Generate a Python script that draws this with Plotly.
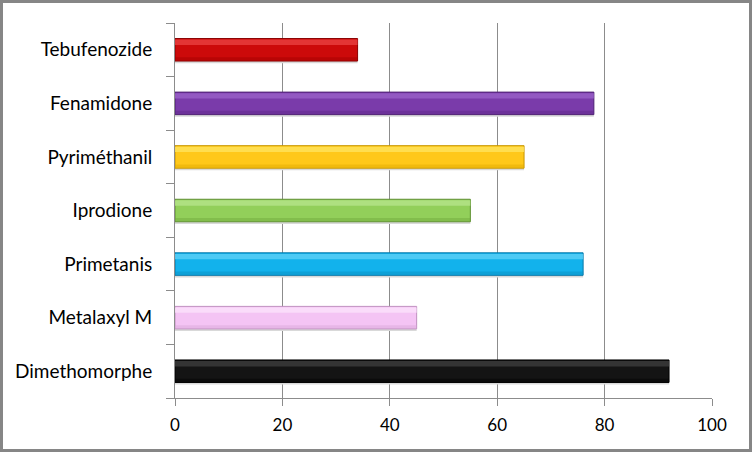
import plotly.graph_objects as go

categories = ["Dimethomorphe", "Metalaxyl M", "Primetanis", "Iprodione",
              "Pyriméthanil", "Fenamidone", "Tebufenozide"]
values = [92, 45, 76, 55, 65, 78, 34]
base_colors = ["#141414", "#F4C4F4", "#12B2EC", "#92CF5A", "#FFC81A", "#7A3BAA", "#CC0A0A"]
light_colors = ["#3C3C3C", "#FBE2FB", "#5CD0F7", "#B5E38A", "#FFE45C", "#9A62C8", "#E84040"]
dark_colors = ["#000000", "#D8A6D8", "#0A8CBF", "#6FA63B", "#E0A800", "#5A2585", "#A00000"]
edge_colors = ["#000000", "#C090C0", "#0878A8", "#5E8F30", "#C89600", "#4D1F72", "#8A0000"]
x_ticks = [0, 20, 40, 60, 80, 100]

fig = go.Figure()
# soft shadow below the bars
fig.add_trace(go.Bar(y=categories, x=values, orientation="h", width=0.05, offset=-0.25,
                     marker=dict(color="#D9D9D9", line=dict(width=0)),
                     hoverinfo="skip", showlegend=False))
# main bar
fig.add_trace(go.Bar(y=categories, x=values, orientation="h", width=0.42,
                     marker=dict(color=base_colors, line=dict(color=edge_colors, width=1)),
                     hoverinfo="skip", showlegend=False))
# top highlight band
fig.add_trace(go.Bar(y=categories, x=values, orientation="h", width=0.1, offset=0.09,
                     marker=dict(color=light_colors, line=dict(width=0), opacity=0.8),
                     hoverinfo="skip", showlegend=False))
# bottom darker band
fig.add_trace(go.Bar(y=categories, x=values, orientation="h", width=0.06, offset=-0.2,
                     marker=dict(color=dark_colors, line=dict(width=0), opacity=0.45),
                     hoverinfo="skip", showlegend=False))

fig.update_layout(
    barmode="overlay",
    width=752, height=452,
    margin=dict(l=175, r=40, t=23, b=54),
    paper_bgcolor="white", plot_bgcolor="white",
    font=dict(family="Lato, 'Open Sans', sans-serif", size=18, color="#000000"),
    xaxis=dict(range=[0, 100], tickvals=x_ticks, showgrid=True, gridcolor="#8C8C8C",
               gridwidth=1, showline=True, linecolor="#8C8C8C", linewidth=1,
               ticks="outside", ticklen=7, tickcolor="#8C8C8C", zeroline=False,
               tickfont=dict(size=17), ticklabelstandoff=5),
    yaxis=dict(categoryorder="array", categoryarray=categories, showline=True,
               linecolor="#8C8C8C", linewidth=1, ticks="outside", ticklen=8,
               tickcolor="#8C8C8C", tickson="boundaries", showgrid=False,
               tickfont=dict(size=19), ticklabelstandoff=18),
    shapes=[dict(type="rect", xref="paper", yref="paper",
                 x0=(1.5 - 175) / 537, x1=(750.5 - 175) / 537,
                 y0=(398 - 450.5) / 375, y1=(398 - 1.5) / 375,
                 line=dict(color="#868686", width=3), layer="below")],
)

fig.write_html("out.html", config={"displayModeBar": False},
               post_script="document.body.style.margin='0';document.body.style.padding='0';")
